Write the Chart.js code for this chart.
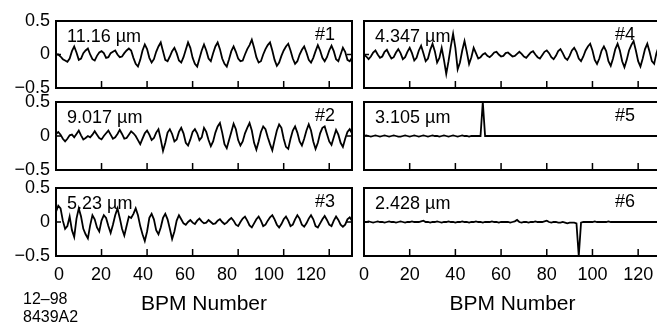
<!DOCTYPE html>
<html>
<head>
<meta charset="utf-8">
<script src="https://cdn.jsdelivr.net/npm/chart.js@4"></script>
<style>
html, body { margin: 0; padding: 0; background: #fff; overflow: hidden; width: 657px; height: 324px; }
canvas { position: absolute; }
#foot { position: absolute; left: 23px; top: 290px; font: 16px "Liberation Sans", Arial, sans-serif; line-height: 18px; color: #000; }
</style>
</head>
<body>
<canvas id="c1" width="362" height="94" style="left:0;top:0"></canvas>
<canvas id="c2" width="362" height="84" style="left:0;top:94px"></canvas>
<canvas id="c3" width="362" height="144" style="left:0;top:180px"></canvas>
<canvas id="c4" width="312" height="94" style="left:356px;top:0"></canvas>
<canvas id="c5" width="312" height="84" style="left:356px;top:94px"></canvas>
<canvas id="c6" width="312" height="144" style="left:356px;top:180px"></canvas>
<div id="foot">12–98<br>8439A2</div>
<script>
// tick values
var bpmTicks = [0, 20, 40, 60, 80, 100, 120];
var yTicks = [-0.5, 0, 0.5];

// rms labels and BPM names per panel
var rmsLabels = ['11.16 µm', '9.017 µm', '5.23 µm', '4.347 µm', '3.105 µm', '2.428 µm'];
var tagLabels = ['#1', '#2', '#3', '#4', '#5', '#6'];

// orbit per BPM (index = BPM number 0..130)
var orbit1 = [
    0.0, 0.0, -0.03, -0.07, -0.09, -0.11, -0.06, 0.05, 0.12, 0.03,
    -0.08, -0.06, 0.02, 0.06, 0.09, 0.0, -0.07, -0.09, -0.02, 0.03,
    0.05, 0.02, -0.05, -0.04, 0.02, 0.04, 0.06, 0.0, -0.04, -0.03,
    0.02, 0.06, 0.09, 0.06, -0.05, -0.14, -0.18, -0.08, 0.06, 0.15,
    0.08, -0.05, -0.12, -0.07, 0.04, 0.12, 0.18, 0.05, -0.08, -0.1,
    -0.03, 0.05, 0.1, 0.02, -0.09, -0.12, -0.04, 0.07, 0.18, 0.1,
    -0.05, -0.14, -0.18, -0.06, 0.06, 0.15, 0.06, -0.06, -0.1, 0.02,
    0.12, 0.18, 0.08, -0.06, -0.14, -0.18, -0.07, 0.05, 0.12, 0.04,
    -0.06, -0.1, -0.09, 0.0, 0.08, 0.14, 0.22, 0.1, -0.04, -0.12,
    -0.1, 0.0, 0.08, 0.14, 0.18, 0.06, -0.08, -0.17, -0.12, -0.02,
    0.06, 0.12, 0.16, 0.06, -0.06, -0.14, -0.1, 0.0, 0.07, 0.12,
    0.03, -0.08, -0.12, -0.05, 0.05, 0.14, 0.06, -0.05, -0.1, -0.04,
    0.06, 0.13, 0.05, -0.07, -0.1, 0.0, 0.1, 0.04, -0.08, -0.1,
    -0.05
];
var orbit2 = [
    0.03, 0.06, 0.02, -0.04, -0.08, -0.04, 0.01, 0.02, -0.02, 0.03,
    0.08, 0.01, -0.05, -0.03, 0.0, -0.02, 0.02, 0.07, 0.02, -0.03,
    -0.05, 0.0, 0.04, 0.08, 0.02, -0.04, -0.02, 0.03, 0.09, 0.03,
    -0.04, -0.03, 0.02, 0.07, 0.04, 0.0, -0.06, -0.12, -0.04, 0.04,
    0.08, 0.02, -0.06, -0.03, 0.05, 0.1, -0.05, -0.22, -0.1, 0.05,
    0.1, 0.03, -0.08, -0.05, 0.06, 0.12, 0.04, -0.1, -0.14, -0.05,
    0.06, 0.1, 0.04, -0.06, -0.02, 0.12, 0.06, -0.06, -0.15, -0.08,
    0.05, 0.14, 0.19, 0.05, -0.12, -0.18, -0.06, 0.06, 0.18, 0.1,
    -0.06, -0.14, -0.08, 0.04, 0.12, 0.19, 0.08, -0.1, -0.2, -0.08,
    0.06, 0.14, 0.1, -0.02, -0.12, -0.21, -0.06, 0.08, 0.17, 0.12,
    -0.04, -0.16, -0.19, -0.04, 0.08, 0.14, 0.05, -0.08, -0.14, -0.04,
    0.08, 0.17, 0.08, -0.08, -0.19, -0.1, 0.04, 0.12, 0.14, 0.03,
    -0.08, -0.13, -0.02, 0.09, 0.02, -0.1, -0.16, -0.04, 0.06, 0.1,
    0.04
];
var orbit3 = [
    0.15, 0.24, 0.2, 0.02, -0.1, -0.06, 0.08, -0.12, -0.22, 0.05,
    0.2, 0.08, -0.1, -0.18, -0.24, -0.05, 0.1, 0.04, -0.08, -0.14,
    0.02, 0.1, 0.06, -0.06, -0.16, -0.04, 0.1, 0.2, 0.06, -0.1,
    -0.2, -0.06, 0.08, 0.06, 0.12, 0.2, 0.1, -0.06, -0.18, -0.28,
    -0.14, 0.06, 0.12, 0.04, -0.12, -0.18, -0.08, 0.06, 0.12, 0.04,
    -0.1, -0.25, -0.14, 0.02, 0.1, 0.04, -0.02, -0.04, 0.0, 0.03,
    -0.01, -0.03, 0.02, 0.05, 0.01, -0.02, -0.01, 0.03, 0.0, -0.03,
    -0.02, 0.02, 0.04, 0.0, -0.03, -0.01, 0.03, 0.06, 0.02, -0.04,
    -0.06, 0.0, 0.05, 0.08, 0.02, -0.05, -0.08, -0.02, 0.04, 0.08,
    0.02, -0.06, -0.04, 0.02, 0.07, 0.1, 0.04, -0.04, -0.08, -0.03,
    0.04, 0.08, 0.02, -0.06, -0.04, 0.04, 0.1, 0.05, -0.04, -0.07,
    -0.02, 0.05, 0.1, 0.04, -0.06, -0.08, -0.02, 0.04, 0.09, 0.03,
    -0.04, -0.06, 0.02, 0.08, 0.03, -0.04, -0.07, -0.04, 0.04, 0.07,
    0.02
];
var orbit4 = [
    0.0, -0.03, -0.07, -0.03, 0.03, 0.06, 0.0, -0.05, -0.03, 0.04,
    0.07, 0.0, -0.06, -0.04, 0.03, 0.08, 0.02, -0.07, -0.04, 0.04,
    0.1, 0.02, -0.09, -0.05, 0.06, 0.13, 0.02, -0.1, -0.06, 0.07,
    0.16, 0.05, -0.12, -0.05, 0.1, -0.08, -0.29, -0.1, 0.12, 0.31,
    0.1, -0.22, -0.12, 0.06, 0.2, 0.04, -0.14, -0.04, 0.1, 0.02,
    -0.06, -0.04, 0.0, 0.02, -0.02, -0.04, -0.01, 0.03, 0.04, 0.0,
    -0.03, -0.02, 0.02, 0.03, 0.0, -0.03, -0.02, 0.01, 0.04, 0.01,
    -0.03, -0.05, -0.01, 0.03, 0.05, 0.0, -0.04, -0.06, -0.01, 0.04,
    0.06, 0.02, -0.04, -0.07, -0.02, 0.05, 0.08, 0.02, -0.05, -0.08,
    -0.02, 0.06, 0.1, 0.04, -0.06, -0.1, -0.03, 0.06, 0.12, 0.16,
    0.06, -0.08, -0.14, -0.06, 0.06, 0.12, 0.05, -0.1, -0.17, -0.06,
    0.08, 0.16, 0.06, -0.1, -0.19, -0.08, 0.06, 0.14, 0.2, 0.06,
    -0.1, -0.18, -0.06, 0.08, 0.16, 0.04, -0.1, -0.14, 0.02, 0.12,
    0.06
];
var orbit5 = [
    0.0, 0.01, 0.0, -0.01, 0.0, 0.01, 0.0, -0.01, 0.0, 0.01,
    0.0, -0.01, 0.0, 0.01, 0.0, -0.01, -0.01, 0.0, 0.01, 0.0,
    -0.01, 0.0, 0.01, 0.0, -0.01, 0.0, 0.01, 0.0, -0.01, 0.0,
    0.01, 0.0, 0.0, -0.01, 0.0, 0.01, 0.0, -0.01, 0.0, 0.01,
    0.0, -0.01, 0.0, 0.01, 0.0, 0.0, -0.01, 0.0, 0.0, 0.0,
    0.0, 0.0, 0.5, 0.0, 0.0, 0.0, 0.0, 0.0, 0.0, 0.0,
    0.0, 0.0, 0.0, 0.0, 0.0, 0.0, 0.0, 0.0, 0.0, 0.0,
    0.0, 0.0, 0.0, 0.0, 0.0, 0.0, 0.0, 0.0, 0.0, 0.0,
    0.0, 0.0, 0.0, 0.0, 0.0, 0.0, 0.0, 0.0, 0.0, 0.0,
    0.0, 0.0, 0.0, 0.0, 0.0, 0.0, 0.0, 0.0, 0.0, 0.0,
    0.0, 0.0, 0.0, 0.0, 0.0, 0.0, 0.0, 0.0, 0.0, 0.0,
    0.0, 0.0, 0.0, 0.0, 0.0, 0.0, 0.0, 0.0, 0.0, 0.0,
    0.0, 0.0, 0.0, 0.0, 0.0, 0.0, 0.0, 0.0, 0.0, 0.0,
    0.0
];
var orbit6 = [
    0.0, 0.0, 0.01, 0.0, -0.01, 0.0, 0.01, 0.0, 0.0, -0.01,
    0.0, 0.01, 0.0, 0.0, -0.01, 0.0, 0.01, 0.0, -0.01, 0.0,
    0.0, 0.01, 0.0, 0.0, 0.0, 0.01, 0.02, 0.0, 0.0, -0.01,
    0.0, 0.0, 0.01, 0.0, -0.01, 0.0, 0.0, 0.01, 0.0, 0.0,
    -0.01, 0.0, 0.0, 0.01, 0.0, 0.0, -0.01, 0.0, 0.0, 0.01,
    0.0, 0.0, -0.01, 0.0, 0.0, 0.0, 0.01, 0.0, 0.0, -0.01,
    0.0, 0.0, 0.0, 0.0, -0.01, 0.0, 0.01, 0.03, 0.0, -0.01,
    0.0, 0.0, -0.01, 0.0, 0.0, 0.01, 0.0, 0.0, 0.0, 0.01,
    0.02, 0.0, -0.01, 0.0, 0.0, -0.01, -0.01, 0.0, -0.01, -0.02,
    -0.01, -0.01, -0.01, -0.02, -0.5, -0.01, 0.0, 0.0, 0.0, 0.0,
    0.0, 0.01, 0.0, 0.0, 0.0, 0.0, 0.0, 0.01, 0.0, 0.0,
    0.0, 0.0, 0.0, 0.0, 0.0, 0.0, 0.0, 0.0, 0.0, 0.0,
    0.0, 0.0, 0.0, 0.0, 0.0, 0.0, 0.0, 0.0, 0.0, 0.0,
    0.0
];

Chart.defaults.font.family = '"Liberation Sans", Arial, sans-serif';
Chart.defaults.color = '#000';

var framePlugin = {
    id: 'frame',
    afterDraw: function (chart, args, o) {
        var ctx = chart.ctx, a = chart.chartArea, sx = chart.scales.x, sy = chart.scales.y;
        ctx.save();
        ctx.strokeStyle = '#000';
        ctx.lineWidth = 2;
        ctx.strokeRect(a.left, a.top, a.right - a.left, a.bottom - a.top);
        ctx.lineWidth = 1.5;
        ctx.beginPath();
        bpmTicks.forEach(function (v) {
            if (v <= 0) return;
            var x = sx.getPixelForValue(v);
            ctx.moveTo(x, a.bottom);
            ctx.lineTo(x, a.bottom - 7);
        });
        var y0 = sy.getPixelForValue(0);
        ctx.moveTo(a.left, y0); ctx.lineTo(a.left + 5, y0);
        ctx.moveTo(a.right, y0); ctx.lineTo(a.right - 5, y0);
        ctx.stroke();
        ctx.fillStyle = '#000';
        ctx.font = '18px "Liberation Sans", Arial, sans-serif';
        ctx.textBaseline = 'alphabetic';
        ctx.fillText(o.rms, a.left + 11, a.top + 21);
        ctx.fillText(o.tag, a.left + o.tagX, a.top + 19);
        ctx.restore();
    }
};

function showPanel(id, values, n, col, row) {
    var left = col === 0, bottom = row === 2;
    var pad = {
        top: row === 0 ? 21 : 8,
        bottom: bottom ? 0 : (row === 0 ? 6 : 8),
        left: left ? 0 : 8,
        right: left ? 10 : 7
    };
    var showX = bottom && !left;
    var scales = {
        x: {
            type: 'linear', min: 0, max: 130,
            display: showX,
            grid: { display: false, drawTicks: false },
            border: { display: false },
            afterBuildTicks: function (s) { s.ticks = bpmTicks.map(function (v) { return { value: v }; }); },
            afterFit: function (s) { s.height = showX ? 68 : 0; s.paddingLeft = 0; s.paddingRight = 0; },
            ticks: { font: { size: 18 }, padding: 8, maxRotation: 0, autoSkip: false },
            title: { display: true, text: 'BPM Number', font: { size: 21 }, padding: { top: 0, bottom: 7 } }
        },
        y: {
            min: -0.5, max: 0.5,
            display: left,
            grid: { display: false, drawTicks: false },
            border: { display: false },
            afterBuildTicks: function (s) { s.ticks = yTicks.map(function (v) { return { value: v }; }); },
            afterFit: function (s) { s.width = left ? 56 : 0; s.paddingTop = 0; s.paddingBottom = 0; },
            ticks: {
                font: { size: 18 }, padding: 6,
                callback: function (v) { return v < 0 ? '\u2212' + Math.abs(v) : String(v); }
            }
        }
    };
    if (bottom && left) {
        // label axis of the left column (labels sit slightly off the tick marks)
        scales.xl = {
            type: 'linear', position: 'bottom', min: -1.43, max: 139.5,
            grid: { display: false, drawTicks: false },
            border: { display: false },
            afterBuildTicks: function (s) { s.ticks = bpmTicks.map(function (v) { return { value: v }; }); },
            afterFit: function (s) { s.height = 68; s.paddingLeft = 0; s.paddingRight = 0; },
            ticks: { font: { size: 18 }, padding: 8, maxRotation: 0, autoSkip: false },
            title: { display: true, text: 'BPM Number', font: { size: 21 }, padding: { top: 0, bottom: 7 } }
        };
    }
    new Chart(document.getElementById(id), {
        type: 'line',
        data: {
            datasets: [{
                data: values.map(function (v, i) { return { x: i, y: v }; }),
                xAxisID: 'x',
                borderColor: '#000',
                borderWidth: 1.8,
                pointRadius: 0,
                tension: 0,
                fill: false
            }]
        },
        options: {
            responsive: false,
            animation: false,
            layout: { padding: pad },
            scales: scales,
            plugins: {
                legend: { display: false },
                tooltip: { enabled: false },
                frame: { rms: rmsLabels[n], tag: tagLabels[n], tagX: left ? 259 : 251 }
            }
        },
        plugins: [framePlugin]
    });
}

showPanel('c1', orbit1, 0, 0, 0);
showPanel('c2', orbit2, 1, 0, 1);
showPanel('c3', orbit3, 2, 0, 2);
showPanel('c4', orbit4, 3, 1, 0);
showPanel('c5', orbit5, 4, 1, 1);
showPanel('c6', orbit6, 5, 1, 2);
</script>
</body>
</html>
